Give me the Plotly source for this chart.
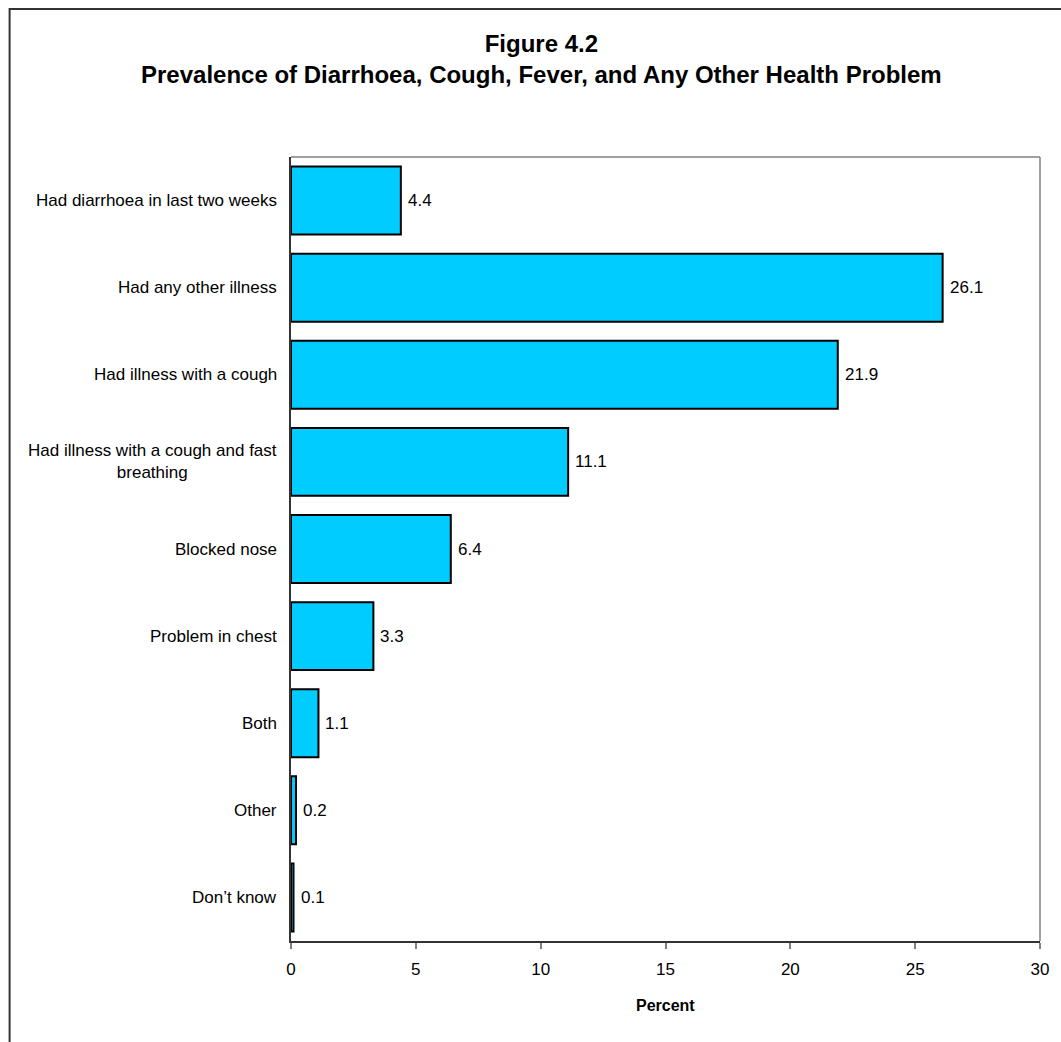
import plotly.graph_objects as go

# Survey results: share of children with each reported health problem
categories = [
    "Had diarrhoea in last two weeks",
    "Had any other illness",
    "Had illness with a cough",
    "Had illness with a cough and fast<br>breathing",
    "Blocked nose",
    "Problem in chest",
    "Both",
    "Other",
    "Don\u2019t know",
]
percent = [4.4, 26.1, 21.9, 11.1, 6.4, 3.3, 1.1, 0.2, 0.1]
x_ticks = [0, 5, 10, 15, 20, 25, 30]

FONT = "Liberation Sans, Arial, sans-serif"

fig = go.Figure(
    go.Bar(
        y=categories,
        x=percent,
        orientation="h",
        marker=dict(color="#00CCFF", line=dict(color="#000000", width=2)),
        hoverinfo="skip",
    )
)

# Category labels drawn as annotations so wrapped lines stay centred
annotations = [
    dict(
        x=0, xref="paper", y=c, yref="y",
        text=c, showarrow=False, xanchor="right", yanchor="middle",
        align="center", xshift=-12,
        font=dict(family=FONT, size=17, color="#000000"),
    )
    for c in categories
]

# Value labels just past the end of each bar
annotations += [
    dict(
        x=v, xref="x", y=c, yref="y",
        text=f"{v:.1f}", showarrow=False, xanchor="left", yanchor="middle",
        xshift=5,
        font=dict(family=FONT, size=17, color="#000000"),
    )
    for c, v in zip(categories, percent)
]

annotations.append(
    dict(
        x=0.5, xref="paper", y=0, yref="paper", yshift=-64,
        text="<b>Percent</b>", showarrow=False,
        xanchor="center", yanchor="middle",
        font=dict(family=FONT, size=16, color="#000000"),
    )
)
annotations.append(
    dict(
        x=0.3347, xref="paper", y=1, yref="paper", yshift=98,
        text="<b>Figure 4.2</b><br><b>Prevalence of Diarrhoea, Cough, Fever, and Any Other Health Problem</b>",
        showarrow=False, xanchor="center", yanchor="middle", align="center",
        font=dict(family=FONT, size=24, color="#000000"),
    )
)

shapes = [
    # plot-area frame (top and right)
    dict(type="line", xref="paper", yref="paper", x0=0, x1=1, y0=1, y1=1,
         line=dict(color="#808080", width=1.5)),
    dict(type="line", xref="paper", yref="paper", x0=1, x1=1, y0=0, y1=1,
         line=dict(color="#808080", width=1.5)),
    # outer chart border
    dict(type="rect", xref="paper", yref="paper",
         x0=-0.3757, x1=1.05, y0=-0.15, y1=1.1888,
         line=dict(color="#333333", width=2), layer="below"),
]

fig.update_layout(
    width=1061,
    height=1042,
    margin=dict(l=291, r=14, t=157, b=101),
    paper_bgcolor="#FFFFFF",
    plot_bgcolor="#FFFFFF",
    showlegend=False,
    bargap=0.22,
    annotations=annotations,
    shapes=shapes,
    font=dict(family=FONT, color="#000000"),
    xaxis=dict(
        range=[0, 30],
        tickvals=x_ticks,
        ticktext=[str(t) for t in x_ticks],
        showgrid=False,
        zeroline=False,
        showline=True,
        linecolor="#333333",
        linewidth=1.5,
        ticks="outside",
        ticklen=6,
        tickcolor="#808080",
        tickwidth=1.5,
        ticklabelstandoff=6,
        tickfont=dict(family=FONT, size=17, color="#000000"),
        fixedrange=True,
    ),
    yaxis=dict(
        categoryorder="array",
        categoryarray=categories,
        autorange="reversed",
        showticklabels=False,
        showgrid=False,
        zeroline=False,
        showline=True,
        linecolor="#333333",
        linewidth=1.5,
        ticks="",
        fixedrange=True,
    ),
)

fig.write_html("out.html")
